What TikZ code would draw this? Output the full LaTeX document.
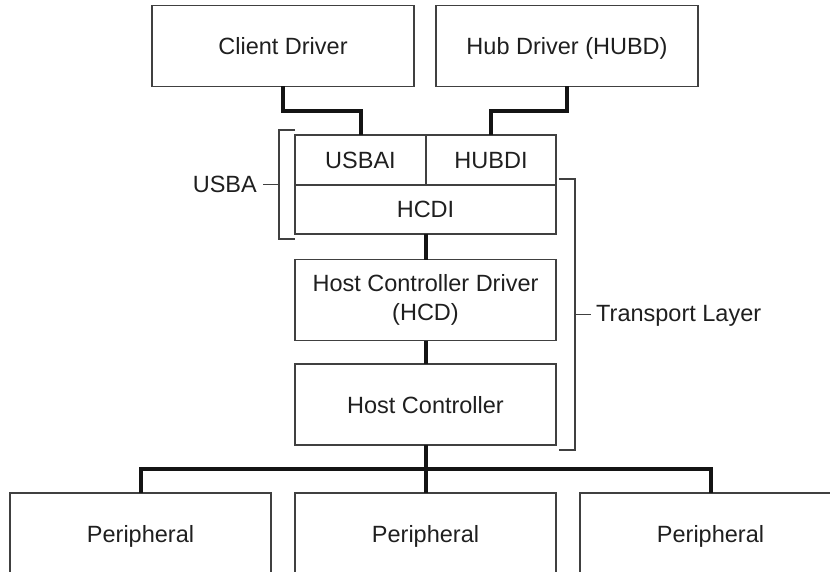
\documentclass[tikz,border=0pt]{standalone}
\usepackage{fontspec}
\setmainfont{Liberation Sans}
\begin{document}
\begin{tikzpicture}[x=1pt,y=-1pt,
  every node/.style={font=\fontsize{23.5}{29}\selectfont, text=black!88},
  box/.style={draw=black!75, line width=1.3pt, minimum width=261pt, minimum height=81pt,
     inner sep=0pt, outer sep=0pt, text height=17pt, text depth=0pt},
  conn/.style={line width=4pt, draw=black!92},
  brk/.style={line width=1.2pt, draw=black!75}]
\useasboundingbox (0,0) rectangle (830,572);
\clip (0,0) rectangle (830,572);
% top boxes
\node[box, minimum width=262pt] (client) at (283,46) {Client Driver};
\node[box, minimum width=262pt] (hub) at (567,46) {Hub Driver (HUBD)};
% USBA block
\node[box, minimum width=131pt, minimum height=50pt] (usbai) at (360.5,160) {USBAI};
\node[box, minimum width=130pt, minimum height=50pt] (hubdi) at (491,160) {HUBDI};
\node[box, minimum width=261pt, minimum height=49pt] (hcdi) at (425.5,209.5) {HCDI};
% host controller driver and host controller
\node[box, align=center, text height=, text depth=, yshift=-1.5pt] (hcd) at (425.5,298.5) {Host Controller Driver\\(HCD)};
\node[box] (hc) at (425.5,404.5) {Host Controller};
% peripherals
\node[box] (p1) at (140.5,533.5) {Peripheral};
\node[box] (p2) at (425.5,533.5) {Peripheral};
\node[box] (p3) at (710.5,533.5) {Peripheral};
% connectors
\draw[conn] (client.south) -- ++(0,25) -| (usbai.north);
\draw[conn] (hub.south) -- ++(0,25) -| (hubdi.north);
\draw[conn] (hcdi.south) -- (hcd.north);
\draw[conn] (hcd.south) -- (hc.north);
\draw[conn] (hc.south) -- (p2.north);
\coordinate (bus) at (425.5,469);
\draw[conn] (p1.north) |- (bus) -| (p3.north);
% USBA bracket
\draw[brk] (295,130) -| (279,239) -- (295,239);
\coordinate (usbatick) at (279,184.5);
\node[anchor=base east, inner sep=0pt] (usba) at (257,193) {USBA};
\draw[brk] (usbatick) -- (263,184.5);
% Transport bracket
\draw[brk] (559,179) -| (575,450) -- (559,450);
\coordinate (trtick) at (575,314.5);
\node[anchor=base west, inner sep=0pt] (tl) at (596,321) {Transport Layer};
\draw[brk] (trtick) -- (591,314.5);
\end{tikzpicture}
\end{document}
